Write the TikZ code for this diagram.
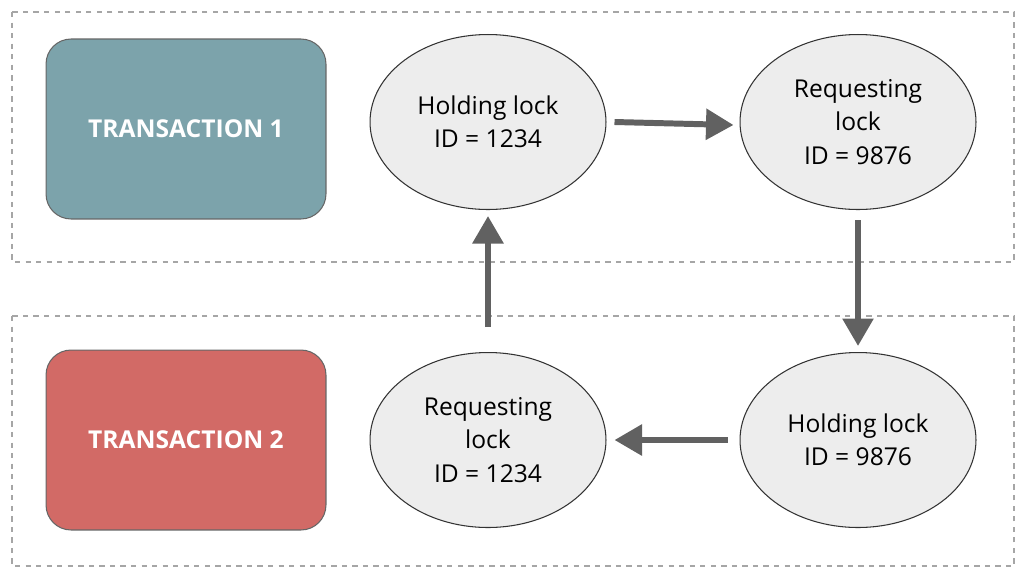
\documentclass[tikz,border=0pt]{standalone}
\usepackage{fontspec}
\setmainfont{Open Sans}
\usetikzlibrary{arrows.meta,shapes.geometric}
\definecolor{tealbox}{HTML}{7CA3AB}
\definecolor{redbox}{HTML}{D26A66}
\definecolor{lockfill}{HTML}{EDEDED}
\definecolor{arrowgray}{HTML}{616161}
\begin{document}
\begin{tikzpicture}[x=0.02cm,y=-0.02cm]
  \tikzset{
    group/.style={draw=gray!70,dashed,line width=0.8pt},
    transbox/.style={rectangle,rounded corners=0.5cm,draw=gray!80!black,line width=0.6pt,minimum width=5.6cm,minimum height=3.6cm,text=white,font=\bfseries\fontsize{14}{17}\selectfont},
    lock/.style={ellipse,draw=black!80,line width=0.6pt,fill=lockfill,minimum width=4.72cm,minimum height=3.5cm,align=center,font=\fontsize{14}{19}\selectfont},
    flow/.style={arrowgray,line width=3.4pt,-{Triangle[length=0.55cm,width=0.6cm]}}
  }
  \useasboundingbox (0,0) rectangle (1024,576);
  \draw[group] (12,12) rectangle (1014,262);
  \draw[group] (12,316) rectangle (1014,566);

  \node[transbox,fill=tealbox] (t1) at (186,129) {TRANSACTION 1};
  \node[transbox,fill=redbox]  (t2) at (186,440) {TRANSACTION 2};

  \node[lock] (hold1) at (488,122) {Holding lock\\ID = 1234};
  \node[lock] (req2)  at (858,122) {Requesting\\lock\\ID = 9876};
  \node[lock] (hold2) at (858,440) {Holding lock\\ID = 9876};
  \node[lock] (req1)  at (488,440) {Requesting\\lock\\ID = 1234};

  \draw[flow] ([xshift=0.16cm]hold1.east) -- ([xshift=-0.12cm,yshift=-0.06cm]req2.west);
  \draw[flow] ([yshift=-0.2cm]req2.south) -- ([yshift=0.12cm]hold2.north);
  \draw[flow] ([xshift=-0.24cm]hold2.west) -- ([xshift=0.16cm]req1.east);
  \draw[flow] ([yshift=0.5cm]req1.north) -- ([yshift=-0.12cm]hold1.south);
\end{tikzpicture}
\end{document}
